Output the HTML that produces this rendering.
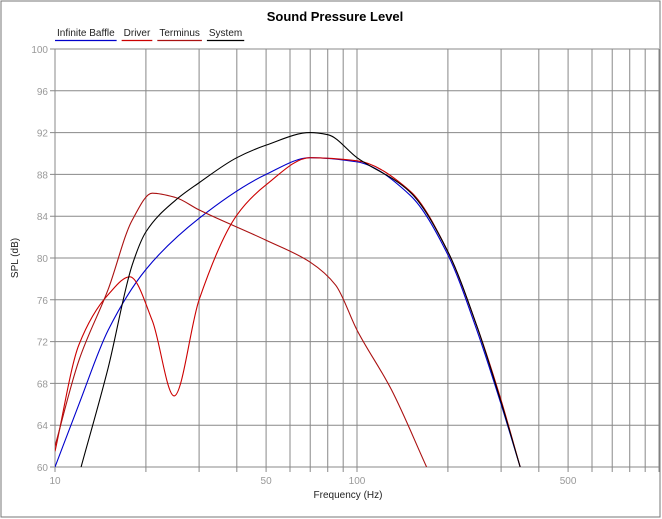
<!DOCTYPE html>
<html><head><meta charset="utf-8"><style>
body{margin:0;background:#fff;}
svg{display:block;font-family:"Liberation Sans",sans-serif;}
</style></head><body>
<svg id="chart" width="662" height="519">
<rect x="1" y="1" width="659" height="516" fill="#fff" stroke="#777" stroke-width="1"/>
<text x="335" y="21" text-anchor="middle" font-size="13" font-weight="bold" fill="#000">Sound Pressure Level</text>
<g id="legend"></g>
<g id="grid"></g>
<g id="axes"></g>
<defs><clipPath id="clip"><rect x="55" y="49" width="603" height="418"/></clipPath></defs>
<g id="series" clip-path="url(#clip)"></g>
<text x="348" y="498" text-anchor="middle" font-size="10" fill="#222">Frequency (Hz)</text>
<text transform="translate(18,258) rotate(-90)" text-anchor="middle" font-size="10" fill="#222">SPL (dB)</text>
</svg>
<script>
const xTicks=[10,20,30,40,50,60,70,80,90,100,200,300,400,500,600,700,800,900,1000];
const xLabels=[10,50,100,500];
const yTicks=[60,64,68,72,76,80,84,88,92,96,100];
const seriesNames=["Infinite Baffle","Driver","Terminus","System"];
const seriesColors=["#0000cc","#cc0000","#aa1111","#000000"];
const ibF=[10,12,15,20,30,50,70,100,150,200,250,300,347];
const ibV=[60,66,73.1,78.9,83.8,88,89.6,89.2,86,80.3,73,66,60];
const drF=[10,12,15,17.7,21,24.8,30,40,50,70,100,150,200,250,300,347];
const drV=[61.5,71.7,76.5,78.2,74,66.8,76,84.1,87,89.6,89.3,86.4,80.6,73.4,66.4,60];
const teF=[10,12,15,18,21,25,30,50,70,85,100,130,170];
const teV=[62,70.2,77,83.6,86.2,85.8,84.6,81.7,79.6,77.4,73.1,67.4,60];
const syF=[12.2,15,18,20,25,30,40,50,70,80,100,150,200,250,300,347];
const syV=[60,69.5,79.3,82.5,85.5,87.2,89.6,90.8,92,91.8,89.6,86.3,80.6,73.4,66.2,60];
const seriesF=[ibF,drF,teF,syF];
const seriesV=[ibV,drV,teV,syV];
const X0=55,DEC=302,Y0=49,YH=418;
function xs(f){return X0+DEC*Math.log10(f/10);}
function ys(v){return Y0+(100-v)/40*YH;}
const NS="http://www.w3.org/2000/svg";
function mk(t,a,p){const e=document.createElementNS(NS,t);for(const k in a)e.setAttribute(k,a[k]);p.appendChild(e);return e;}
const grid=document.getElementById('grid'),axes=document.getElementById('axes');
xTicks.forEach(f=>{const l=mk('line',{x1:xs(f),x2:xs(f),y1:Y0,y2:Y0+YH+5,stroke:'#888','stroke-width':1},grid);

});
yTicks.forEach(v=>{const l=mk('line',{x1:X0-5,x2:xs(1000),y1:ys(v),y2:ys(v),stroke:'#888','stroke-width':1},grid);


const t=mk('text',{x:X0-7,y:ys(v)+4,'text-anchor':'end','font-size':10,fill:'#999'},axes);t.textContent=v;

});
xLabels.forEach(f=>{const t=mk('text',{x:xs(f),y:Y0+YH+17,'text-anchor':'middle','font-size':10,fill:'#999'},axes);t.textContent=f;

});
// monotone cubic (Fritsch-Carlson)
function path(F,V){const x=F.map(xs),y=V.map(ys),n=x.length;const d=[],m=[];
for(let i=0;i<n-1;i++)d.push((y[i+1]-y[i])/(x[i+1]-x[i]));
m[0]=d[0];m[n-1]=d[n-2];
for(let i=1;i<n-1;i++){if(d[i-1]*d[i]<=0)m[i]=0;else{const w1=2*(x[i+1]-x[i])+(x[i]-x[i-1]),w2=(x[i+1]-x[i])+2*(x[i]-x[i-1]);m[i]=(w1+w2)/(w1/d[i-1]+w2/d[i]);}}
let s='M'+x[0]+','+y[0];
for(let i=0;i<n-1;i++){const h=x[i+1]-x[i];
s+=' C'+(x[i]+h/3)+','+(y[i]+m[i]*h/3)+' '+(x[i+1]-h/3)+','+(y[i+1]-m[i+1]*h/3)+' '+x[i+1]+','+y[i+1];}
return s;}
const sg=document.getElementById('series');
seriesF.forEach((F,i)=>{const p=mk('path',{d:path(F,seriesV[i]),fill:'none',stroke:seriesColors[i],'stroke-width':1.1},sg);

});
const lg=document.getElementById('legend');let lx=57;
seriesNames.forEach((n,i)=>{const t=mk('text',{x:lx,y:36,'font-size':10,fill:'#222'},lg);t.textContent=n;


const w=t.getComputedTextLength();
const l=mk('line',{x1:lx-2,x2:lx+w+2,y1:40.5,y2:40.5,stroke:seriesColors[i],'stroke-width':1.2},lg);


lx+=w+9;});
</script>
</body></html>
